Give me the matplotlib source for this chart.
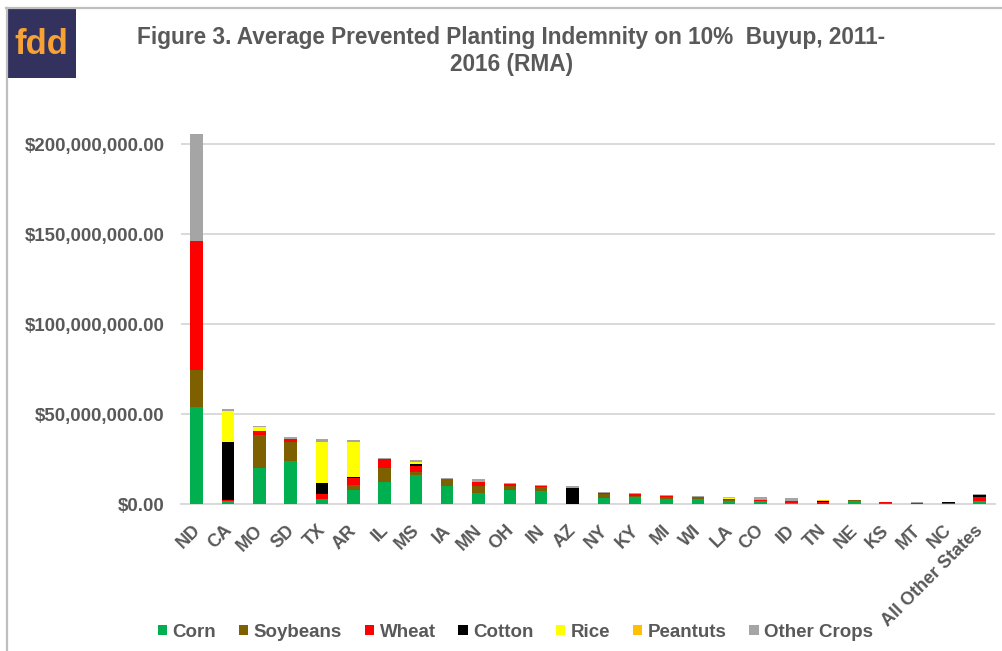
import numpy as np
import matplotlib
matplotlib.use('Agg')
import matplotlib.pyplot as plt
from matplotlib.patches import Rectangle
from matplotlib.lines import Line2D
from matplotlib.ticker import FuncFormatter
from matplotlib.transforms import ScaledTranslation

plt.rcParams['font.family'] = ['Liberation Sans', 'DejaVu Sans']

# values in millions of dollars
states = ['ND', 'CA', 'MO', 'SD', 'TX', 'AR', 'IL', 'MS', 'IA', 'MN', 'OH', 'IN', 'AZ',
          'NY', 'KY', 'MI', 'WI', 'LA', 'CO', 'ID', 'TN', 'NE', 'KS', 'MT', 'NC',
          'All Other States']
corn = [54.1, 1.9, 20.4, 24.1, 3.0, 8.1, 12.6, 16.3, 10.4, 6.1, 8.0, 7.2, 0.0,
        3.7, 3.9, 2.8, 3.0, 1.8, 1.8, 0.7, 0.0, 1.8, 0.4, 0.0, 0.0, 1.7]
soybeans = [20.7, 0.0, 18.3, 10.7, 0.0, 2.4, 7.8, 1.7, 3.5, 4.3, 2.0, 2.2, 0.0,
            2.2, 0.7, 1.5, 1.0, 0.7, 0.0, 0.0, 0.3, 0.4, 0.6, 0.0, 0.0, 0.0]
wheat = [71.6, 0.7, 2.0, 1.5, 3.0, 4.1, 5.0, 3.5, 0.0, 2.0, 1.5, 0.7, 0.0,
         0.5, 1.1, 0.5, 0.0, 0.6, 0.7, 1.1, 0.9, 0.0, 0.2, 0.7, 0.6, 2.2]
cotton = [0.0, 32.0, 0.0, 0.0, 5.7, 0.7, 0.0, 0.9, 0.0, 0.0, 0.0, 0.0, 9.3,
          0.0, 0.0, 0.0, 0.0, 0.0, 0.0, 0.0, 0.9, 0.0, 0.0, 0.0, 0.6, 1.1]
rice = [0.0, 17.0, 2.2, 0.0, 23.1, 19.4, 0.0, 1.3, 0.0, 0.0, 0.0, 0.0, 0.0,
        0.0, 0.0, 0.0, 0.0, 0.5, 0.0, 0.0, 0.0, 0.0, 0.0, 0.0, 0.0, 0.0]
peanuts = [0.0, 0.0, 0.0, 0.0, 0.0, 0.0, 0.0, 0.0, 0.0, 0.0, 0.0, 0.0, 0.0,
           0.0, 0.0, 0.0, 0.0, 0.7, 0.0, 0.0, 0.2, 0.0, 0.0, 0.0, 0.0, 0.0]
other = [59.2, 1.3, 0.5, 1.1, 1.5, 0.9, 0.5, 0.9, 0.5, 1.5, 0.5, 0.4, 0.7,
         0.4, 0.5, 0.5, 0.5, 0.0, 1.3, 1.5, 0.3, 0.2, 0.2, 0.5, 0.3, 0.9]

series = [('Corn', corn, '#00B050'),
          ('Soybeans', soybeans, '#7F6000'),
          ('Wheat', wheat, '#FF0000'),
          ('Cotton', cotton, '#000000'),
          ('Rice', rice, '#FFFF00'),
          ('Peantuts', peanuts, '#FFC000'),
          ('Other Crops', other, '#A5A5A5')]

gray_text = '#595959'

fig = plt.figure(figsize=(10.03, 6.51), dpi=100)
ax = fig.add_axes([0.1805, 0.2253, 0.8118, 0.5862])

x = np.arange(len(states))
bottom = np.zeros(len(states))
for name, vals, col in series:
    v = np.array(vals) * 1e6
    ax.bar(x, v, 0.4, bottom=bottom, color=col, label=name, zorder=3)
    bottom += v

ax.set_xlim(-0.5, len(states) - 0.5)
ax.set_ylim(0, 212e6)
ax.set_yticks(np.arange(0, 200e6 + 1, 50e6))
ax.yaxis.set_major_formatter(FuncFormatter(lambda v, p: '${:,.2f}'.format(v)))
ax.grid(axis='y', color='#D9D9D9', linewidth=1.4, zorder=0)
for s in ['top', 'right', 'left']:
    ax.spines[s].set_visible(False)
ax.spines['bottom'].set_color('#D9D9D9')
ax.spines['bottom'].set_linewidth(1.4)
ax.tick_params(axis='y', length=0, pad=12, labelsize=13.4, labelcolor=gray_text)
ax.tick_params(axis='x', length=0, pad=4)
for lbl in ax.get_yticklabels():
    lbl.set_fontweight('bold')
ax.set_xticks(x)
ax.set_xticklabels(states, rotation=45, ha='right', va='top', rotation_mode='anchor',
                   fontsize=13, fontweight='bold', color=gray_text)
# nudge the slanted labels down-left like the original
shift = ScaledTranslation(-5 / 100, -12 / 100, fig.dpi_scale_trans)
for lbl in ax.get_xticklabels():
    lbl.set_transform(lbl.get_transform() + shift)

leg = fig.legend(loc='center', bbox_to_anchor=(0.514, 0.029), ncol=7, frameon=False,
                 handlelength=0.5, handleheight=0.5, handletextpad=0.3,
                 columnspacing=1.2, prop={'size': 13.5, 'weight': 'bold'})
for t in leg.get_texts():
    t.set_color(gray_text)

fig.text(0.510, 0.922,
         'Figure 3. Average Prevented Planting Indemnity on 10%  Buyup, 2011-\n2016 (RMA)',
         ha='center', va='center', fontsize=16.3, fontweight='bold', color=gray_text,
         linespacing=1.2)

# border lines and logo
fig.add_artist(Line2D([0.006, 0.9995], [0.988, 0.988], color='#BFBFBF', lw=1.6))
fig.add_artist(Line2D([0.0065, 0.0065], [0.0, 0.988], color='#BFBFBF', lw=1.6))
fig.add_artist(Rectangle((0.007, 0.880), 0.069, 0.106, facecolor='#33325F',
                         edgecolor='none', transform=fig.transFigure))
fig.text(0.0415, 0.932, 'fdd', ha='center', va='center', fontsize=25,
         fontweight='bold', color='#F7A233')

fig.savefig('out.png', dpi=100)
